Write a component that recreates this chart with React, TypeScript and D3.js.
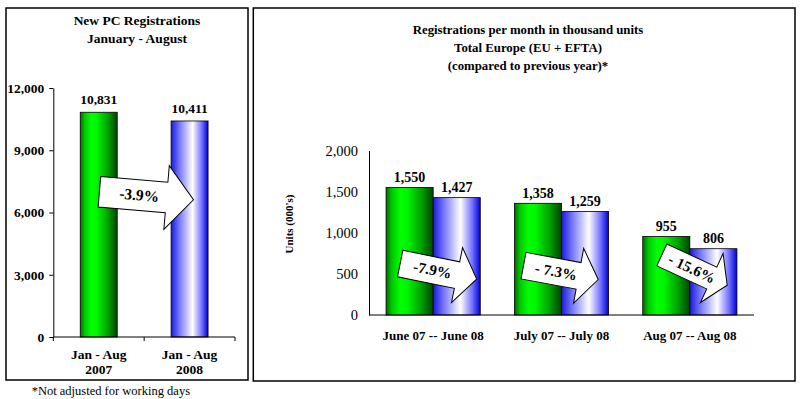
import { useEffect, useRef } from "react";
import { axisLeft, format, scaleBand, scaleLinear, select } from "d3";

const FONT = "'Liberation Serif', 'Times New Roman', serif";

// left chart: January - August totals
const periodKeys = ["2007", "2008"];
const periodLines = [
  ["Jan - Aug", "2007"],
  ["Jan - Aug", "2008"],
];
const periodValues = [10831, 10411];
const periodTicks = [0, 3000, 6000, 9000, 12000];
const periodChange = "-3.9%";

// right chart: monthly registrations (thousand units)
const months = ["June 07 -- June 08", "July 07 -- July 08", "Aug 07 -- Aug 08"];
const values07 = [1550, 1358, 955];
const values08 = [1427, 1259, 806];
const monthTicks = [0, 500, 1000, 1500, 2000];
const monthChanges = ["-7.9%", "- 7.3%", "- 15.6%"];

// where the block arrows sit (offset from group centre, value on y scale)
const monthArrows = [
  { dx: -33, at: 625, angle: 11.4, len: 78 },
  { dx: -38, at: 600, angle: 10.5, len: 76 },
  { dx: -28, at: 730, angle: 24.8, len: 72 },
];

const fmt = format(",");

function YAxis({ scale, ticks, x, bold, fontSize, tickSize, padding }) {
  const ref = useRef(null);

  useEffect(() => {
    if (!ref.current) return;
    const g = select(ref.current);
    g.call(
      axisLeft(scale)
        .tickValues(ticks)
        .tickFormat(fmt)
        .tickSizeInner(tickSize)
        .tickSizeOuter(0)
        .tickPadding(padding)
    );
    g.attr("font-family", FONT).attr("font-size", fontSize);
    g.select(".domain").attr("stroke", "#000");
    g.selectAll(".tick line").attr("stroke", "#000");
    g.selectAll(".tick text")
      .attr("fill", "#000")
      .attr("font-weight", bold ? "bold" : "normal");
  }, [scale, ticks]);

  return <g ref={ref} transform={`translate(${x},0)`} />;
}

function BlockArrow({ x, y, angle, len, body, head, headLen, label, textAt, fontSize }) {
  const b = body / 2;
  const h = head / 2;
  const k = len - headLen;
  const d = `M0,${-b}L${k},${-b}L${k},${-h}L${len},0L${k},${h}L${k},${b}L0,${b}Z`;
  return (
    <g transform={`translate(${x},${y}) rotate(${angle})`}>
      <path d={d} fill="#fff" stroke="#000" strokeWidth={1} strokeLinejoin="miter" />
      <text
        x={textAt}
        y={0}
        dy="0.33em"
        textAnchor="middle"
        fontFamily={FONT}
        fontWeight="bold"
        fontSize={fontSize}
      >
        {label}
      </text>
    </g>
  );
}

function Gradients() {
  return (
    <defs>
      <linearGradient id="green" x1="0" x2="1" y1="0" y2="0">
        <stop offset="0" stopColor="#006b00" />
        <stop offset="0.12" stopColor="#00c800" />
        <stop offset="0.3" stopColor="#00ff00" />
        <stop offset="0.45" stopColor="#00f500" />
        <stop offset="0.75" stopColor="#00a000" />
        <stop offset="1" stopColor="#004400" />
      </linearGradient>
      <linearGradient id="blue" x1="0" x2="1" y1="0" y2="0">
        <stop offset="0" stopColor="#1a1ad8" />
        <stop offset="0.25" stopColor="#8080ff" />
        <stop offset="0.58" stopColor="#ffffff" />
        <stop offset="0.82" stopColor="#7878ff" />
        <stop offset="1" stopColor="#0000d8" />
      </linearGradient>
    </defs>
  );
}

function PeriodChart() {
  const xL = scaleBand()
    .domain(periodKeys)
    .range([53.3, 235])
    .paddingInner(0.593)
    .paddingOuter(0.2965);
  const yL = scaleLinear().domain([0, 12000]).range([337, 88]);
  const bw = xL.bandwidth();
  const step = xL.step();
  const x0 = xL.range()[0];
  const fills = ["url(#green)", "url(#blue)"];

  return (
    <g>
      <rect x={6} y={8} width={242} height={372} fill="#fff" stroke="#000" strokeWidth={1.5} />
      <text x={137} y={25} textAnchor="middle" fontFamily={FONT} fontWeight="bold" fontSize={13.5}>
        New PC Registrations
      </text>
      <text x={137} y={43} textAnchor="middle" fontFamily={FONT} fontWeight="bold" fontSize={13.5}>
        January - August
      </text>

      {periodKeys.map((k, i) => (
        <rect
          key={`pbar-${k}`}
          x={xL(k)}
          y={yL(periodValues[i])}
          width={bw}
          height={yL(0) - yL(periodValues[i])}
          fill={fills[i]}
          stroke="#000"
          strokeWidth={0.8}
        />
      ))}
      {periodKeys.map((k, i) => (
        <text
          key={`plab-${k}`}
          x={xL(k) + bw / 2}
          y={yL(periodValues[i]) - 8}
          textAnchor="middle"
          fontFamily={FONT}
          fontWeight="bold"
          fontSize={13.5}
        >
          {fmt(periodValues[i])}
        </text>
      ))}

      <YAxis scale={yL} ticks={periodTicks} x={53.3} bold fontSize={13.5} tickSize={4} padding={5} />
      <line x1={53.3} x2={235} y1={yL(0)} y2={yL(0)} stroke="#000" />
      {[0, 1, 2].map((i) => (
        <line
          key={`ptick-${i}`}
          x1={x0 + i * step}
          x2={x0 + i * step}
          y1={yL(0)}
          y2={yL(0) + 4}
          stroke="#000"
        />
      ))}
      {periodKeys.map((k, i) => (
        <text
          key={`pcat-${k}`}
          x={xL(k) + bw / 2}
          textAnchor="middle"
          fontFamily={FONT}
          fontWeight="bold"
          fontSize={13.5}
        >
          <tspan x={xL(k) + bw / 2} y={359}>
            {periodLines[i][0]}
          </tspan>
          <tspan x={xL(k) + bw / 2} y={373.5}>
            {periodLines[i][1]}
          </tspan>
        </text>
      ))}

      <BlockArrow
        x={xL(periodKeys[0]) + bw / 2 + 0.7}
        y={yL(7000)}
        angle={4.9}
        len={94.4}
        body={30.5}
        head={64}
        headLen={27}
        label={periodChange}
        textAt={40}
        fontSize={15.5}
      />

      <text x={31.7} y={395} fontFamily={FONT} fontSize={12.5}>
        *Not adjusted for working days
      </text>
    </g>
  );
}

function MonthChart() {
  const xR = scaleBand()
    .domain(months)
    .range([369, 754])
    .paddingInner(0.266)
    .paddingOuter(0.133);
  const yR = scaleLinear().domain([0, 2000]).range([315, 150.5]);
  const bw = xR.bandwidth();
  const half = bw / 2;

  return (
    <g>
      <rect x={253.3} y={8} width={541.7} height={373} fill="#fff" stroke="#000" strokeWidth={1.5} />
      {[
        "Registrations per month in thousand units",
        "Total Europe (EU + EFTA)",
        "(compared to previous year)*",
      ].map((t, i) => (
        <text
          key={`title-${i}`}
          x={528}
          y={34.3 + i * 17.8}
          textAnchor="middle"
          fontFamily={FONT}
          fontWeight="bold"
          fontSize={12.8}
        >
          {t}
        </text>
      ))}

      {months.map((m, i) => (
        <g key={`mbar-${m}`}>
          <rect
            x={xR(m)}
            y={yR(values07[i])}
            width={half}
            height={yR(0) - yR(values07[i])}
            fill="url(#green)"
            stroke="#000"
            strokeWidth={0.8}
          />
          <rect
            x={xR(m) + half}
            y={yR(values08[i])}
            width={half}
            height={yR(0) - yR(values08[i])}
            fill="url(#blue)"
            stroke="#000"
            strokeWidth={0.8}
          />
          <text
            x={xR(m) + half / 2}
            y={yR(values07[i]) - 5.5}
            textAnchor="middle"
            fontFamily={FONT}
            fontWeight="bold"
            fontSize={14}
          >
            {fmt(values07[i])}
          </text>
          <text
            x={xR(m) + half * 1.5}
            y={yR(values08[i]) - 5.5}
            textAnchor="middle"
            fontFamily={FONT}
            fontWeight="bold"
            fontSize={14}
          >
            {fmt(values08[i])}
          </text>
          <text
            x={xR(m) + bw / 2}
            y={340}
            textAnchor="middle"
            fontFamily={FONT}
            fontWeight="bold"
            fontSize={13}
          >
            {m}
          </text>
        </g>
      ))}

      <YAxis scale={yR} ticks={monthTicks} x={369} bold={false} fontSize={14.5} tickSize={0} padding={11} />
      <line x1={369} x2={754} y1={yR(0)} y2={yR(0)} stroke="#000" />

      <text
        transform="translate(292.5,224) rotate(-90)"
        textAnchor="middle"
        fontFamily={FONT}
        fontWeight="bold"
        fontSize={11}
      >
        Units (000's)
      </text>

      {months.map((m, i) => (
        <BlockArrow
          key={`arrow-${m}`}
          x={xR(m) + bw / 2 + monthArrows[i].dx}
          y={yR(monthArrows[i].at)}
          angle={monthArrows[i].angle}
          len={monthArrows[i].len}
          body={i === 2 ? 24 : 27}
          head={i === 2 ? 54 : 56}
          headLen={i === 2 ? 17 : 20}
          label={monthChanges[i]}
          textAt={33}
          fontSize={15}
        />
      ))}
    </g>
  );
}

export default function App() {
  return (
    <svg
      width={802}
      height={399}
      style={{ position: "absolute", left: 0, top: 0, background: "#fff" }}
    >
      <Gradients />
      <PeriodChart />
      <MonthChart />
    </svg>
  );
}
